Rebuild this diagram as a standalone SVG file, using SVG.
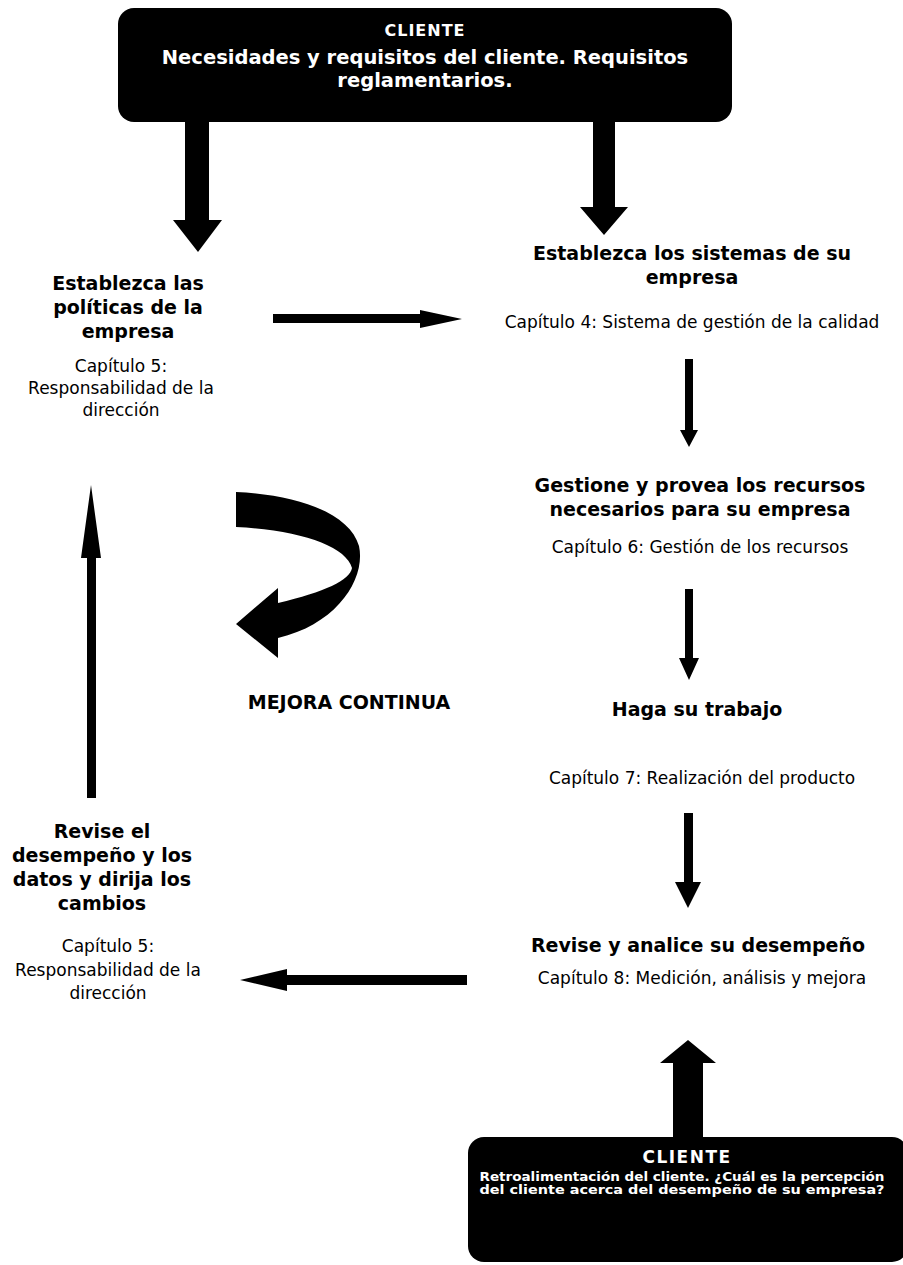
<svg xmlns="http://www.w3.org/2000/svg" width="903" height="1265" viewBox="0 0 903 1265">
<style>
.b{font-family:"DejaVu Sans",Verdana,sans-serif;font-weight:bold;font-size:19px;fill:#000;text-anchor:middle}
.r{font-family:"DejaVu Sans",Verdana,sans-serif;font-size:17px;fill:#000;text-anchor:middle}
.w{font-family:"DejaVu Sans",Verdana,sans-serif;font-weight:bold;fill:#fff;text-anchor:middle}
.box{fill:#000}
.arr{fill:#000}
</style>
<rect width="903" height="1265" fill="#fff"/>
<g id="cliente-top">
<rect class="box" x="118" y="8" width="614" height="114" rx="16"/>
<text class="w" x="425" y="36" font-size="16" letter-spacing="1">CLIENTE</text>
<text class="w" x="425" y="64" font-size="19.5">Necesidades y requisitos del cliente. Requisitos</text>
<text class="w" x="425" y="87" font-size="19.5">reglamentarios.</text>
</g>
<g id="politicas">
<text class="b" x="128" y="290">Establezca las</text>
<text class="b" x="128" y="314">políticas de la</text>
<text class="b" x="128" y="338">empresa</text>
<text class="r" x="121" y="372">Capítulo 5:</text>
<text class="r" x="121" y="394">Responsabilidad de la</text>
<text class="r" x="121" y="416">dirección</text>
</g>
<g id="sistemas">
<text class="b" x="692" y="260">Establezca los sistemas de su</text>
<text class="b" x="692" y="284">empresa</text>
<text class="r" x="692" y="328">Capítulo 4: Sistema de gestión de la calidad</text>
</g>
<g id="recursos">
<text class="b" x="700" y="492">Gestione y provea los recursos</text>
<text class="b" x="700" y="516">necesarios para su empresa</text>
<text class="r" x="700" y="553">Capítulo 6: Gestión de los recursos</text>
</g>
<g id="trabajo">
<text class="b" x="697" y="716">Haga su trabajo</text>
<text class="r" x="702" y="784">Capítulo 7: Realización del producto</text>
</g>
<g id="desempeno">
<text class="b" x="698" y="952">Revise y analice su desempeño</text>
<text class="r" x="702" y="984">Capítulo 8: Medición, análisis y mejora</text>
</g>
<g id="revise">
<text class="b" x="102" y="838">Revise el</text>
<text class="b" x="102" y="862">desempeño y los</text>
<text class="b" x="102" y="886">datos y dirija los</text>
<text class="b" x="102" y="910">cambios</text>
<text class="r" x="108" y="952">Capítulo 5:</text>
<text class="r" x="108" y="976">Responsabilidad de la</text>
<text class="r" x="108" y="999">dirección</text>
</g>
<g id="mejora">
<path class="arr" d="M236,492 C300,495 350,514 359,546 C366,578 338,624 278,638 L278,658 L236,624 L278,588 L278,603 C325,592 350,580 352,568 C346,546 300,530 236,527 Z"/>
<text class="b" x="349" y="709" font-size="23.5">MEJORA CONTINUA</text>
</g>
<g id="cliente-bottom">
<rect class="box" x="468" y="1137" width="440" height="125" rx="16"/>
<text class="w" x="687" y="1163" font-size="17" letter-spacing="1.5">CLIENTE</text>
<text class="w" x="682" y="1181" font-size="12" textLength="405" lengthAdjust="spacingAndGlyphs">Retroalimentación del cliente. ¿Cuál es la percepción</text>
<text class="w" x="682" y="1194" font-size="12" textLength="405" lengthAdjust="spacingAndGlyphs">del cliente acerca del desempeño de su empresa?</text>
</g>
<g id="connectors">
<polygon class="arr" points="185,122 209,122 209,220 222,220 198,252 173,220 185,220"/>
<polygon class="arr" points="593,122 615,122 615,207 628,207 604,235 580,207 593,207"/>
<polygon class="arr" points="273,314 420,314 420,310 462,319 420,328 420,323 273,323"/>
<polygon class="arr" points="685,359 693,359 693,430 698,430 689,447 680,430 685,430"/>
<polygon class="arr" points="685,589 693,589 693,658 699,658 689,680 679,658 685,658"/>
<polygon class="arr" points="684,813 693,813 693,882 701,882 688,908 675,882 684,882"/>
<polygon class="arr" points="467,975 287,975 287,969 240,980 287,991 287,985 467,985"/>
<polygon class="arr" points="87,798 96,798 96,558 101,558 91,485 81,558 87,558"/>
<polygon class="arr" points="673,1137 703,1137 703,1063 716,1063 688,1040 660,1063 673,1063"/>
</g>
</svg>
